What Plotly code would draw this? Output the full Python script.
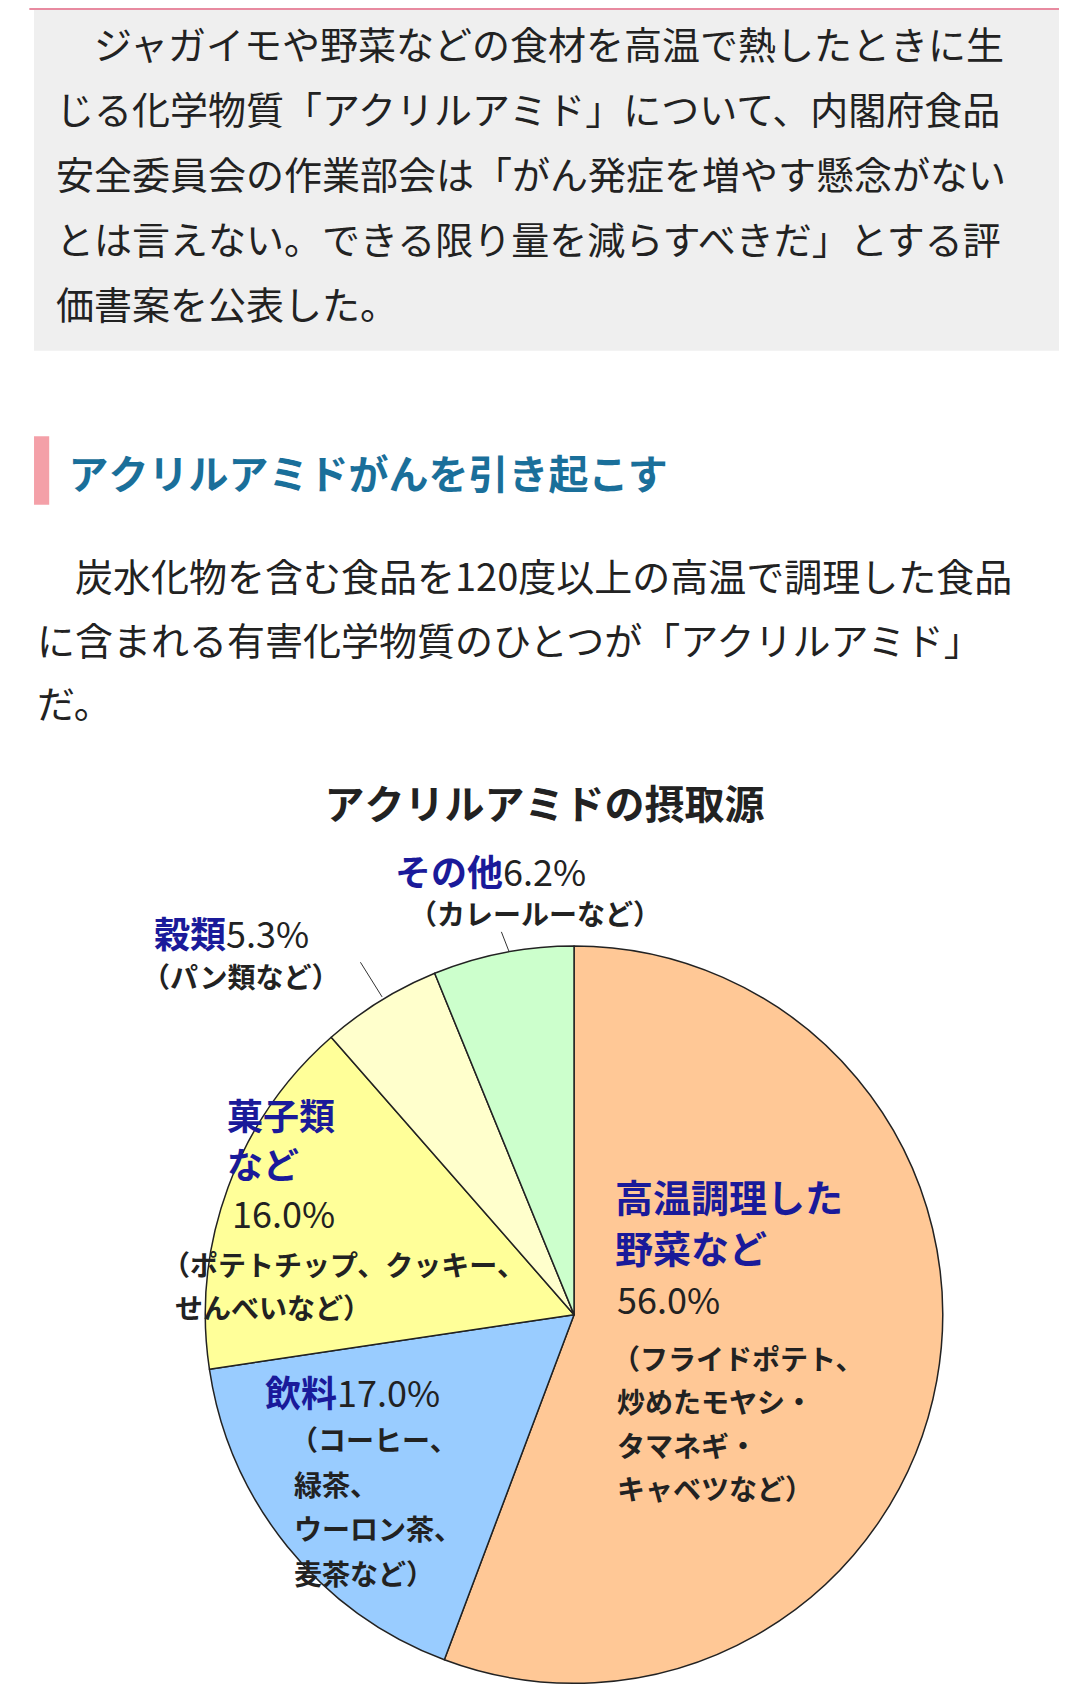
import plotly.graph_objects as go

categories = ["高温調理した野菜など", "飲料", "菓子類など", "穀類", "その他"]
values = [56.0, 17.0, 16.0, 5.3, 6.2]
colors = ["#FFC896", "#99CCFF", "#FFFF99", "#FFFFCC", "#CCFFCC"]

W, H = 1067, 1700
S = W / 984.0
def px(x, y):
    return x / 984.0, 1 - y * S / H

FONT = "Noto Sans CJK JP"
NAVY = "#1a1a9a"

fig = go.Figure()
cx, cy, r = 522, 1205, 340
x0, y0 = px(cx - r, cy + r)
x1, y1 = px(cx + r, cy - r)
fig.add_trace(go.Pie(labels=categories, values=values, sort=False, direction="clockwise",
                     rotation=0, marker=dict(colors=colors, line=dict(color="#222", width=1.5)),
                     textinfo="none", hoverinfo="label+percent", showlegend=False,
                     domain=dict(x=[x0, x1], y=[y0, y1])))

shapes = []
# pink top line
shapes.append(dict(type="rect", xref="paper", yref="paper", x0=0.02, x1=1, y0=1-2/H, y1=1,
                   fillcolor="#e88aa0", line=dict(width=0)))
bx0, by0 = px(24, 0); bx1, by1 = px(973, 316)
shapes.append(dict(type="rect", xref="paper", yref="paper", x0=bx0, x1=bx1, y0=by1, y1=by0,
                   fillcolor="#efefef", line=dict(width=0), layer="below"))
px0, py0 = px(24, 395); px1, py1 = px(38, 458)
shapes.append(dict(type="rect", xref="paper", yref="paper", x0=px0, x1=px1, y0=py1, y1=py0,
                   fillcolor="#f4a0a8", line=dict(width=0)))
for (a, b, c, d) in [(325, 880, 345, 912), (455, 852, 462, 870)]:
    lx0, ly0 = px(a, b); lx1, ly1 = px(c, d)
    shapes.append(dict(type="line", xref="paper", yref="paper", x0=lx0, y0=ly0, x1=lx1, y1=ly1,
                       line=dict(color="#333", width=1)))

ann = []
def txt(x, y, t, size, color="#222", xanchor="left"):
    ax, ay = px(x, y)
    ann.append(dict(x=ax, y=ay, xref="paper", yref="paper", text=t, showarrow=False,
                    xanchor=xanchor, yanchor="middle", font=dict(family=FONT, size=size, color=color)))

top = ["　ジャガイモや野菜などの食材を高温で熱したときに生",
       "じる化学物質「アクリルアミド」について、内閣府食品",
       "安全委員会の作業部会は「がん発症を増やす懸念がない",
       "とは言えない。できる限り量を減らすべきだ」とする評",
       "価書案を公表した。"]
for i, l in enumerate(top):
    txt(42, 32 + i * 60, l, 38)
txt(55, 428, "<b>アクリルアミドがんを引き起こす</b>", 40, "#1a6f9a")
body = ["　炭水化物を含む食品を120度以上の高温で調理した食品",
        "に含まれる有害化学物質のひとつが「アクリルアミド」",
        "だ。"]
for i, l in enumerate(body):
    txt(25, 522 + i * 59, l, 38)
txt(495, 732, "<b>アクリルアミドの摂取源</b>", 40, "#222", "center")

def nm(s):
    return f"<b><span style='color:{NAVY}'>{s}</span></b>"
txt(355, 795, nm("その他") + "6.2%", 36)
txt(368, 835, "<b>（カレールーなど）</b>", 28)
txt(133, 852, nm("穀類") + "5.3%", 36)
txt(122, 893, "<b>（パン類など）</b>", 28)
txt(200, 1020, nm("菓子類"), 36)
txt(200, 1065, nm("など"), 36)
txt(205, 1110, "16.0%", 36)
txt(140, 1158, "<b>（ポテトチップ、クッキー、</b>", 28)
txt(152, 1198, "<b>せんべいなど）</b>", 28)
txt(235, 1275, nm("飲料") + "17.0%", 36)
for i, l in enumerate(["（コーヒー、", "緑茶、", "ウーロン茶、", "麦茶など）"]):
    txt(258 if i == 0 else 262, 1320 + i * 41, f"<b>{l}</b>", 28)
txt(558, 1095, nm("高温調理した"), 38)
txt(558, 1142, nm("野菜など"), 38)
txt(560, 1190, "56.0%", 36)
for i, l in enumerate(["（フライドポテト、", "炒めたモヤシ・", "タマネギ・", "キャベツなど）"]):
    txt(555 if i == 0 else 560, 1245 + i * 40, f"<b>{l}</b>", 28)

fig.update_layout(width=W, height=H, margin=dict(l=0, r=0, t=0, b=0),
                  paper_bgcolor="white", plot_bgcolor="white",
                  shapes=shapes, annotations=ann, font=dict(family=FONT))
fig.write_html("out.html")
